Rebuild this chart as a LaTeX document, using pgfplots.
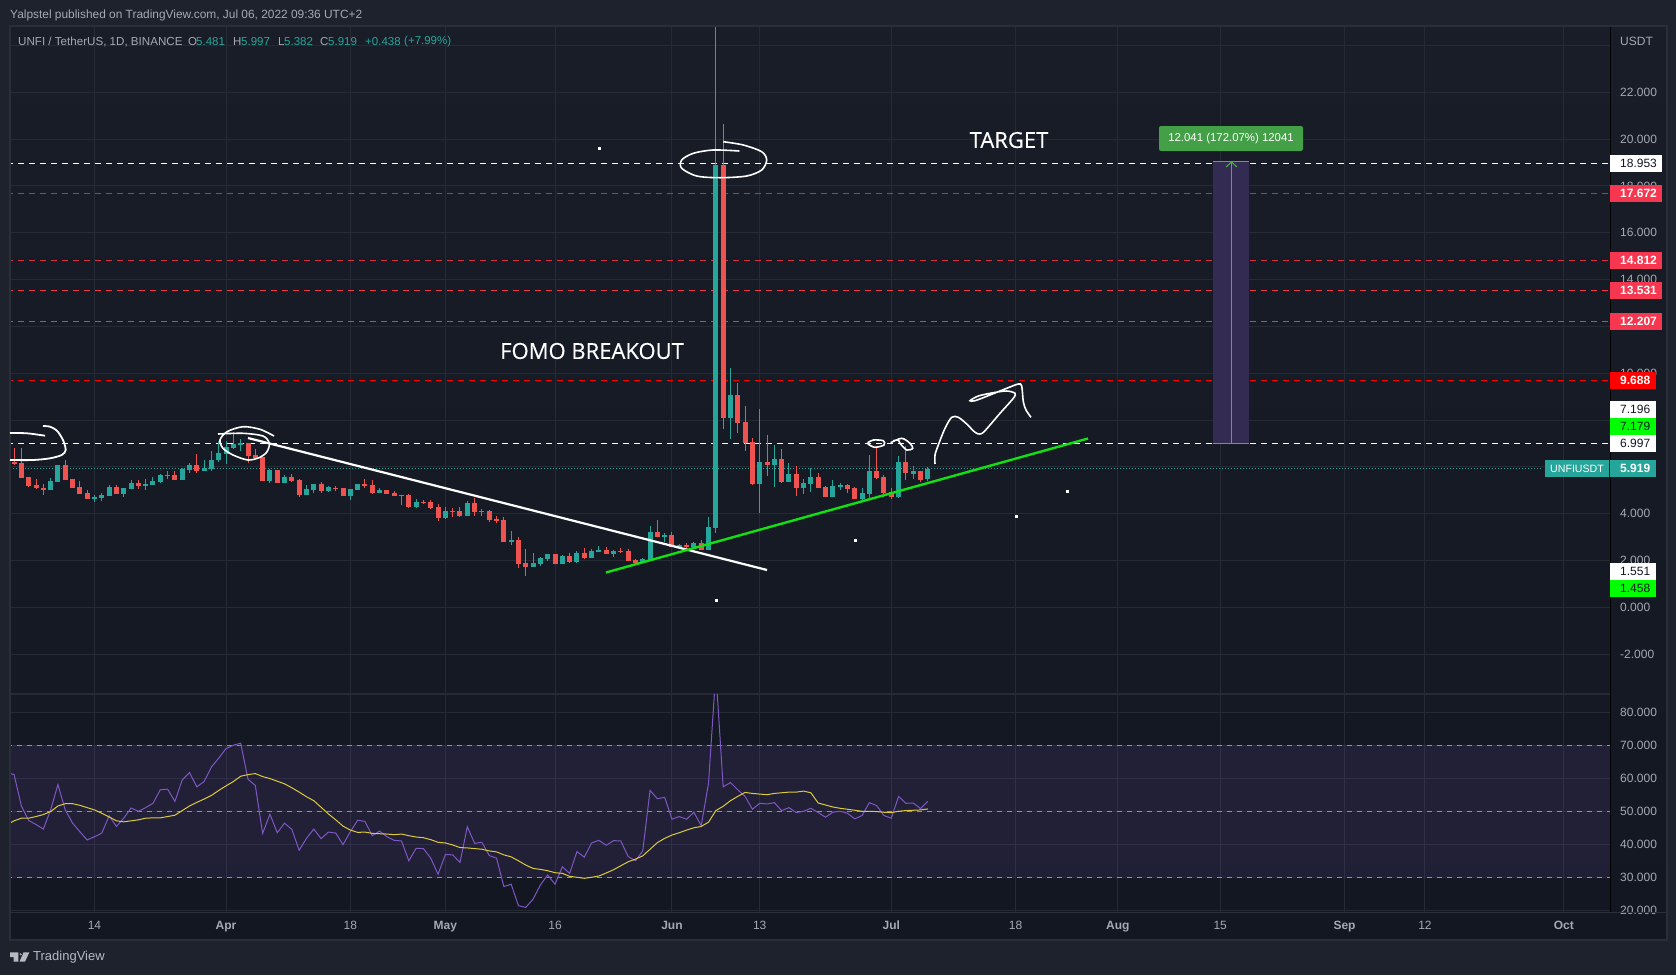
\documentclass[border=0pt]{standalone}
\usepackage{fontspec}
\setmainfont{Liberation Sans}
\newfontfamily\annofont[FakeBold=0.35]{Open Sans}
\usepackage{pgfplots}
\usepackage{pgfplotstable}
\pgfplotsset{compat=1.18}
\definecolor{outerbg}{HTML}{1E222D}
\definecolor{bgtop}{HTML}{191D28}
\definecolor{bgbot}{HTML}{131722}
\definecolor{framec}{HTML}{2A2E39}
\definecolor{gridc}{HTML}{262A35}
\definecolor{txt}{HTML}{A6A9B2}
\definecolor{upc}{HTML}{26A69A}
\definecolor{downc}{HTML}{EF5350}
\definecolor{redl}{HTML}{F23645}
\definecolor{redtag}{HTML}{F7374F}
\definecolor{pur}{HTML}{7E57C2}
\definecolor{yel}{HTML}{DCC93C}
\definecolor{lime}{HTML}{00FF00}
\definecolor{linegreen}{HTML}{12E012}
\definecolor{tool}{HTML}{4CAF50}
\definecolor{tagg}{HTML}{43A047}
\definecolor{dark}{HTML}{131722}
\definecolor{toolfill}{HTML}{332B52}
\newcommand\fs[1]{\fontsize{#1}{#1}\selectfont}
% d open high low close
\pgfplotstableread{
d o h l c
-6 5.01 5.51 5.01 5.39
-5 5.37 6.08 5.37 6.08
0 4.63 4.80 4.51 4.71
1 4.67 4.87 4.55 4.80
2 4.75 5.22 4.75 5.14
4 4.84 5.11 4.73 5.10
5 5.05 5.44 5.05 5.31
7 5.18 5.48 5.01 5.27
8 5.22 5.55 5.22 5.39
9 5.35 5.69 5.31 5.65
10 5.61 5.82 5.48 5.65
12 5.44 5.94 5.44 5.91
13 5.86 6.15 5.75 6.08
15 5.82 6.29 5.81 5.95
16 5.91 6.68 5.82 6.29
17 6.29 7.12 6.22 6.59
18 6.55 7.10 6.12 6.85
19 6.80 7.47 6.76 6.98
20 6.95 7.19 6.68 7.02
24 5.39 5.89 5.31 5.86
26 5.31 5.65 5.31 5.57
29 4.80 5.22 4.80 5.05
30 5.01 5.27 4.88 5.27
32 4.97 5.18 4.92 5.14
35 4.75 5.05 4.58 5.05
36 5.01 5.27 5.01 5.27
39 4.88 5.10 4.88 5.01
44 4.28 4.63 4.24 4.50
48 3.81 4.28 3.77 4.11
51 3.90 4.54 3.90 4.46
53 4.07 4.20 3.90 4.11
57 2.79 3.26 2.66 2.88
60 1.72 2.32 1.72 1.89
61 1.85 2.15 1.76 2.11
62 2.06 2.28 1.98 2.28
64 1.85 2.23 1.85 2.19
66 1.94 2.41 1.89 2.32
68 2.11 2.49 2.11 2.41
69 2.36 2.62 2.36 2.45
71 2.28 2.45 2.15 2.39
75 1.89 2.11 1.89 2.06
76 2.02 3.47 2.02 3.22
78 3.00 3.17 2.79 3.09
80 2.56 2.70 2.53 2.66
82 2.56 2.79 2.53 2.75
84 2.45 3.86 2.45 3.43
85 3.39 30.00 3.19 18.89
87 8.10 10.22 7.19 9.07
91 5.27 8.47 4.03 6.21
93 6.08 6.93 5.14 6.33
95 5.35 6.16 5.35 5.69
97 5.09 5.48 4.84 5.31
98 5.27 5.95 4.92 5.56
101 4.71 5.44 4.71 5.18
102 5.14 5.31 5.01 5.22
105 4.62 5.09 4.58 4.88
106 4.84 6.50 4.62 5.82
110 4.71 6.46 4.67 6.21
112 5.69 6.03 5.48 5.82
114 5.481 5.997 5.382 5.919
}\upcandles
\pgfplotstableread{
d o h l c
-11 6.22 6.79 6.08 6.12
-10 6.16 6.79 5.54 5.54
-9 5.55 5.55 5.15 5.18
-8 5.22 5.47 5.07 5.11
-7 5.12 5.25 4.80 5.01
-4 6.08 6.29 5.44 5.44
-3 5.48 5.48 5.11 5.11
-2 5.14 5.39 4.84 4.84
-1 4.88 5.01 4.63 4.63
3 5.14 5.22 4.84 4.84
6 5.31 5.44 5.07 5.18
11 5.65 5.82 5.44 5.44
14 6.08 6.55 5.75 5.82
21 7.00 7.00 6.18 6.46
22 6.51 6.76 6.33 6.38
23 6.42 6.42 5.39 5.39
25 5.86 5.86 5.31 5.31
27 5.57 5.69 5.35 5.39
28 5.44 5.48 4.71 4.80
31 5.27 5.35 4.88 4.95
33 5.12 5.18 4.98 5.04
34 5.10 5.10 4.75 4.75
37 5.27 5.48 5.10 5.18
38 5.22 5.44 4.84 4.88
40 5.01 5.01 4.84 4.84
41 4.88 4.97 4.75 4.75
42 4.80 4.80 4.37 4.76
43 4.80 4.84 4.24 4.28
45 4.51 4.58 4.41 4.46
46 4.50 4.58 4.20 4.24
47 4.28 4.41 3.69 3.81
49 4.13 4.24 3.86 4.09
50 4.11 4.28 3.86 3.90
52 4.46 4.67 3.90 4.07
54 4.11 4.16 3.64 3.73
55 3.77 3.90 3.60 3.69
56 3.73 3.86 2.79 2.79
58 2.88 3.00 1.68 1.85
59 1.89 2.49 1.34 1.72
63 2.28 2.28 1.85 1.85
65 2.19 2.32 1.89 1.94
67 2.32 2.53 2.06 2.11
70 2.45 2.58 2.28 2.28
72 2.41 2.53 2.32 2.36
73 2.41 2.49 1.98 1.98
74 2.02 2.06 1.85 1.89
77 3.22 3.73 3.00 3.00
79 3.09 3.22 2.58 2.58
81 2.66 2.75 2.45 2.59
83 2.75 2.88 2.45 2.45
86 18.89 20.65 7.62 8.10
88 9.07 9.58 7.44 7.87
89 7.91 8.60 6.68 7.02
90 7.06 7.23 5.22 5.27
92 6.21 7.36 5.61 6.08
94 6.33 6.76 5.31 5.35
96 5.69 6.03 4.75 5.09
99 5.56 5.74 5.09 5.09
100 5.14 5.18 4.71 4.71
103 5.22 5.27 4.88 5.05
104 5.09 5.14 4.62 4.62
107 5.82 6.89 5.48 5.52
108 5.56 5.65 4.71 4.88
109 4.92 5.09 4.62 4.71
111 6.21 6.89 5.44 5.74
113 5.82 5.82 5.35 5.44
}\downcandles
% d rsi ma
\pgfplotstableread{
d r m
-12 61.7 45.9
-11 61.1 47.1
-10 51.6 47.9
-9 47.2 47.9
-8 46.0 48.4
-7 44.6 49.0
-6 50.4 49.9
-5 58.1 51.6
-4 50.4 52.3
-3 46.4 52.3
-2 43.8 51.8
-1 41.3 51.1
0 42.3 50.4
1 43.4 49.4
2 48.6 48.3
3 45.4 47.1
4 47.9 46.8
5 51.0 47.1
6 50.0 47.4
7 51.1 47.9
8 52.4 48.0
9 56.5 48.0
10 56.7 48.4
11 53.0 48.8
12 59.5 50.2
13 61.7 51.6
14 57.4 52.7
15 59.0 53.7
16 63.4 54.8
17 66.1 56.3
18 69.0 57.7
19 70.0 59.0
20 70.6 60.6
21 59.7 61.1
22 57.8 61.4
23 43.3 60.5
24 49.1 59.9
25 43.5 59.1
26 46.4 58.3
27 44.5 57.1
28 38.2 55.8
29 41.8 54.4
30 44.6 53.2
31 41.7 51.2
32 43.7 49.2
33 43.4 47.4
34 39.9 45.5
35 43.8 44.3
36 47.3 43.6
37 46.9 43.7
38 42.6 43.3
39 44.0 43.2
40 42.3 43.1
41 41.2 42.9
42 41.0 43.1
43 35.0 42.6
44 38.8 42.2
45 38.7 42.0
46 35.8 41.4
47 30.9 40.6
48 36.9 40.4
49 36.8 39.8
50 34.5 39.0
51 45.3 38.9
52 40.3 38.7
53 40.6 38.5
54 36.6 38.0
55 35.8 37.7
56 27.2 36.8
57 27.9 36.2
58 21.4 35.0
59 20.9 33.7
60 23.4 32.7
61 27.7 32.4
62 30.7 32.0
63 27.9 31.4
64 33.2 31.2
65 31.2 30.3
66 37.8 30.0
67 36.1 29.7
68 40.4 30.0
69 41.2 30.4
70 39.7 31.3
71 41.1 32.3
72 41.0 33.5
73 36.3 34.7
74 35.0 35.5
75 38.0 36.5
76 56.3 38.5
77 53.8 40.5
78 54.2 41.8
79 47.6 42.8
80 48.4 43.5
81 47.6 44.3
82 49.7 45.0
83 45.6 45.4
84 58.5 46.7
85 92.3 50.2
86 57.4 51.5
87 58.7 53.2
88 56.5 54.5
89 54.5 55.7
90 50.6 55.4
91 52.4 55.2
92 52.2 55.0
93 52.6 55.4
94 50.2 55.6
95 51.1 55.8
96 49.6 55.8
97 50.0 56.1
98 50.9 55.6
99 49.6 52.5
100 48.2 51.9
101 49.7 51.3
102 50.0 50.9
103 49.4 50.6
104 47.7 50.3
105 48.7 50.0
106 52.6 50.0
107 51.7 49.9
108 48.7 49.7
109 47.9 49.6
110 54.5 50.0
111 52.4 50.2
112 52.5 50.3
113 50.8 50.4
114 53.0 50.7
}\rsitable
\pgfplotsset{
  pane/.style={
    scale only axis, width=1599.5pt, xmin=-11.49, xmax=207.32,
    xtick={0,18,35,48,63,79,91,109,126,140,154,171,182,201},
    grid=major, grid style={gridc, line width=1pt},
    axis line style={gridc, line width=1pt},
    tick style={draw=none}, major tick length=0pt,
    yticklabel pos=right,
    yticklabel style={font=\fs{12}, color=txt, anchor=west, xshift=10pt, inner sep=0pt,
      /pgf/number format/fixed, /pgf/number format/fixed zerofill, /pgf/number format/precision=3,
      /pgf/number format/assume math mode=true},
  },
  wick/.style={draw=none, mark=none, forget plot, error bars/.cd, y dir=plus, y explicit, error mark=none,
    error bar style={draw=#1, line width=1pt}},
  body/.style={draw=none, mark=none, forget plot, error bars/.cd, y dir=plus, y explicit, error mark=none,
    error bar style={draw=#1, line width=5pt}},
  hline/.style={#1, line width=1pt, dash pattern=on 6pt off 5pt, forget plot},
}
\newcommand\candles[2]{%
  \addplot[wick=#2] table[x=d, y=l, y error plus expr=\thisrow{h}-\thisrow{l}, y error minus expr=0] {#1};
  \addplot[body=#2] table[x=d, y=o, y error plus expr=\thisrow{c}-\thisrow{o}, y error minus expr=0] {#1};
}
\newcommand\ptag[7]{% ytop, xright, fill, textcolor, text, series, size
  \fill[#3] (axis cs:1610,#1) rectangle (axis cs:#2,#1+17);
  \node[anchor=west, inner sep=0pt, text=#4, font=#6\fs{#7}] at (axis cs:1620,#1+8.5) {#5};
}
\begin{document}
\begin{tikzpicture}[x=1pt,y=1pt]
\useasboundingbox (0,0) rectangle (1676,975);
\fill[outerbg] (0,0) rectangle (1676,975);
\shade[top color=bgtop, bottom color=bgbot] (9.5,35) rectangle (1667,949);

% price pane
\begin{axis}[pane, at={(10.5pt,281pt)}, anchor=south west, height=667pt,
  ymin=-3.70, ymax=24.79, ytick={-2,0,2,4,10,14,16,18,20,22},
  extra y ticks={6,8,12,24}, extra y tick labels={,,,}, extra tick style={grid=major},
  xticklabels={}]
  \addplot[hline=white] coordinates {(-12,18.953) (208,18.953)};
  \addplot[hline=redl!85!black, line width=0.8pt] coordinates {(-12,17.672) (208,17.672)};
  \addplot[hline=redl!90!black, line width=0.8pt] coordinates {(-12,14.812) (208,14.812)};
  \addplot[hline=redl] coordinates {(-12,13.531) (208,13.531)};
  \addplot[hline=redl] coordinates {(-12,12.207) (208,12.207)};
  \addplot[hline=red] coordinates {(-12,9.688) (208,9.688)};
  \addplot[hline=white] coordinates {(-12,6.997) (208,6.997)};
  \addplot[upc, line width=1pt, dash pattern=on 1pt off 2pt, forget plot] coordinates {(-12,5.919) (198,5.919)};
  \candles{\upcandles}{upc}
  \candles{\downcandles}{downc}
\end{axis}

% RSI pane
\begin{axis}[pane, at={(10.5pt,63pt)}, anchor=south west, height=218pt,
  ymin=19.5, ymax=85.5, ytick={20,30,40,50,60,70,80},
  xticklabels={14,\textbf{Apr},18,\textbf{May},16,\textbf{Jun},13,\textbf{Jul},18,\textbf{Aug},15,\textbf{Sep},12,\textbf{Oct}},
  xticklabel style={font=\fs{12}, color=txt, anchor=center, text height=9pt, text depth=0pt, yshift=-13pt, inner sep=0pt}]
  \addplot[draw=none, fill=pur, fill opacity=0.13, forget plot] coordinates {(-12,30) (208,30) (208,70) (-12,70)} -- cycle;
  \addplot[hline=gray!85, dash pattern=on 5pt off 5pt] coordinates {(-12,70) (208,70)};
  \addplot[hline=gray!85, dash pattern=on 5pt off 5pt] coordinates {(-12,50) (208,50)};
  \addplot[hline=gray!85, dash pattern=on 5pt off 5pt] coordinates {(-12,30) (208,30)};
  \addplot[pur, line width=1pt] table[x=d,y=r] {\rsitable};
  \addplot[yel, line width=1pt] table[x=d,y=m] {\rsitable};
\end{axis}

% pixel-frame overlay: drawings, price tags, header
\begin{axis}[at={(0pt,0pt)}, anchor=south west, scale only axis, width=1676pt, height=975pt,
  xmin=0, xmax=1676, ymin=0, ymax=975, y dir=reverse, hide axis, clip=false]
  % frame
  \draw[framec, line width=2pt] (axis cs:9.5,26) rectangle (axis cs:1667,940);
  \draw[framec, line width=1pt] (axis cs:10,912) -- (axis cs:1667,912);
  \draw[color=framec!150!white!85!black, line width=1pt] (axis cs:1610,27) -- (axis cs:1610,912);
  % position tool
  \addplot[draw=none, fill=toolfill, forget plot] coordinates {(1213,161.7) (1249,161.7) (1249,443.3) (1213,443.3)} -- cycle;
  \addplot[tool, line width=1pt, forget plot] coordinates {(1213,161.7) (1249,161.7)};
  \addplot[tool, line width=1pt, forget plot] coordinates {(1213,443.3) (1249,443.3)};
  \addplot[tool, line width=1pt, forget plot] coordinates {(1231.5,443.3) (1231.5,162)};
  \addplot[tool, line width=1pt, forget plot] coordinates {(1226,167) (1231.5,162) (1237,167)};
  \fill[tagg, rounded corners=2pt] (axis cs:1159,126) rectangle (axis cs:1303,151);
  \node[text=white, font=\fs{11.4}] at (axis cs:1231,138.5) {12.041 (172.07\%) 12041};
  % trend lines
  \addplot[white, line width=2.2pt, forget plot] coordinates {(248,438) (767,570)};
  \addplot[linegreen, line width=2.4pt, forget plot] coordinates {(606,572.5) (1088,438.5)};
  % freehand
  \addplot[white, line width=1.8pt, smooth, forget plot] coordinates {(10,433) (27,433.3) (45,435.7)};
  \addplot[white, line width=1.8pt, smooth, forget plot] coordinates {(43,426) (50,426.7) (57,430.7) (63,440) (65.7,450) (61.7,455) (50,458.3) (33,460) (10,460)};
  \addplot[white, line width=1.6pt, smooth, forget plot] coordinates {(218,434) (243,433.3) (263,436) (269.3,443.3) (267,451.7) (260,457.3) (248,460) (233,455) (223,448.3) (220,440) (227,431.7) (243,426.7) (260,429.3) (274,436)};
  \addplot[white, line width=1.6pt, smooth, forget plot] coordinates {(739.3,151) (713.3,150) (693.3,153.3) (681.7,160) (681.7,168.3) (696.7,176) (720,177.7) (746.7,176) (761.7,170) (766.7,160) (761.7,151.7) (743.3,145) (723.3,141.7)};
  \addplot[white, line width=1.6pt, smooth, forget plot] coordinates {(867.7,442.7) (873.3,440) (883.3,440.7) (884,445) (875,447.3) (868.3,444.3) (867.7,442.7)};
  \addplot[white, line width=1.6pt, smooth, forget plot] coordinates {(890.7,442.7) (901.7,438.3) (910,443.3) (912.7,448.3) (906.7,450) (900,443.3) (898.3,440) (893.3,440.7)};
  \addplot[white, line width=1.6pt, smooth, forget plot] coordinates {(935,464) (935,455) (938.3,445) (945,428.3) (951.7,417.3) (958.3,417.3) (966.7,424) (975,432.3) (980,434) (985,430.7) (1000,413.3) (1013.3,398.3) (1015,393.3) (1006.7,391) (993.3,392.7) (978.3,396) (970,400.7) (975,400.7) (990,395) (1006.7,388.3) (1018.3,384) (1021.7,386) (1023.3,401.7) (1026,410) (1031,417.3)};
  \addplot[only marks, mark=square*, mark size=1pt, white, forget plot] coordinates {(599,148.6) (716,600) (855,540) (1016,516) (1067,491)};
  % annotations
  \node[text=white, font=\annofont\fs{22}] at (axis cs:1009,140) {TARGET};
  \node[text=white, font=\annofont\fs{22}] at (axis cs:592,351) {FOMO BREAKOUT};
  % price tags
  \ptag{155}{1662}{white}{dark}{18.953}{}{12}
  \ptag{185}{1662}{redtag}{white}{17.672}{\bfseries}{12}
  \ptag{252}{1662}{redtag}{white}{14.812}{\bfseries}{12}
  \ptag{282}{1662}{redtag}{white}{13.531}{\bfseries}{12}
  \ptag{313}{1662}{redtag}{white}{12.207}{\bfseries}{12}
  \ptag{372}{1656}{red}{white}{9.688}{\bfseries}{12}
  \ptag{401}{1656}{white}{dark}{7.196}{}{12}
  \ptag{418}{1656}{lime}{dark}{7.179}{}{12}
  \ptag{435}{1656}{white}{dark}{6.997}{}{12}
  \ptag{460}{1656}{upc}{white}{5.919}{\bfseries}{12}
  \ptag{563}{1656}{white}{dark}{1.551}{}{12}
  \ptag{580}{1656}{lime}{dark}{1.458}{}{12}
  \fill[upc] (axis cs:1545,460) rectangle (axis cs:1609,477);
  \node[text=white, font=\fs{10.6}] at (axis cs:1577,468.5) {UNFIUSDT};
  \node[anchor=west, inner sep=0pt, text=txt, font=\fs{12}] at (axis cs:1620,41) {USDT};
  % header
  \node[anchor=west, inner sep=0pt, text=txt, font=\fs{11.9}] at (axis cs:10,15) {Yalpstel published on TradingView.com, Jul 06, 2022 09:36 UTC+2};
  \node[anchor=west, inner sep=0pt, text=txt, font=\fs{11.6}] at (axis cs:18,42) {UNFI / TetherUS, 1D, BINANCE};
  \node[anchor=west, inner sep=0pt, text=txt, font=\fs{11.5}] at (axis cs:188,42) {O};
  \node[anchor=west, inner sep=0pt, text=upc, font=\fs{11.5}] at (axis cs:196,42) {5.481};
  \node[anchor=west, inner sep=0pt, text=txt, font=\fs{11.5}] at (axis cs:233,42) {H};
  \node[anchor=west, inner sep=0pt, text=upc, font=\fs{11.5}] at (axis cs:241,42) {5.997};
  \node[anchor=west, inner sep=0pt, text=txt, font=\fs{11.5}] at (axis cs:278,42) {L};
  \node[anchor=west, inner sep=0pt, text=upc, font=\fs{11.5}] at (axis cs:284,42) {5.382};
  \node[anchor=west, inner sep=0pt, text=txt, font=\fs{11.5}] at (axis cs:320,42) {C};
  \node[anchor=west, inner sep=0pt, text=upc, font=\fs{11.5}] at (axis cs:328,42) {5.919};
  \node[anchor=west, inner sep=0pt, text=upc, font=\fs{11.5}] at (axis cs:365,42) {+0.438};
  \node[anchor=west, inner sep=0pt, text=upc, font=\fs{11.5}] at (axis cs:404,42) {(+7.99\%)};
  % logo
  \addplot[draw=none, fill=txt!80!white, forget plot] coordinates {(10,952.3) (18.3,952.3) (18.3,961.7) (13.5,961.7) (13.5,957) (10,957)} -- cycle;
  \addplot[draw=none, fill=txt!80!white, forget plot] coordinates {(23.5,952.3) (29.3,952.3) (25,961.7) (19.5,961.7)} -- cycle;
  \addplot[only marks, mark=*, mark size=1.7pt, mark options={draw=none, fill=txt!80!white}, forget plot] coordinates {(20.7,954.3)};
  \node[anchor=west, inner sep=0pt, text=txt!80!white, font=\fs{13}] at (axis cs:33,957) {TradingView};
\end{axis}
\end{tikzpicture}
\end{document}
